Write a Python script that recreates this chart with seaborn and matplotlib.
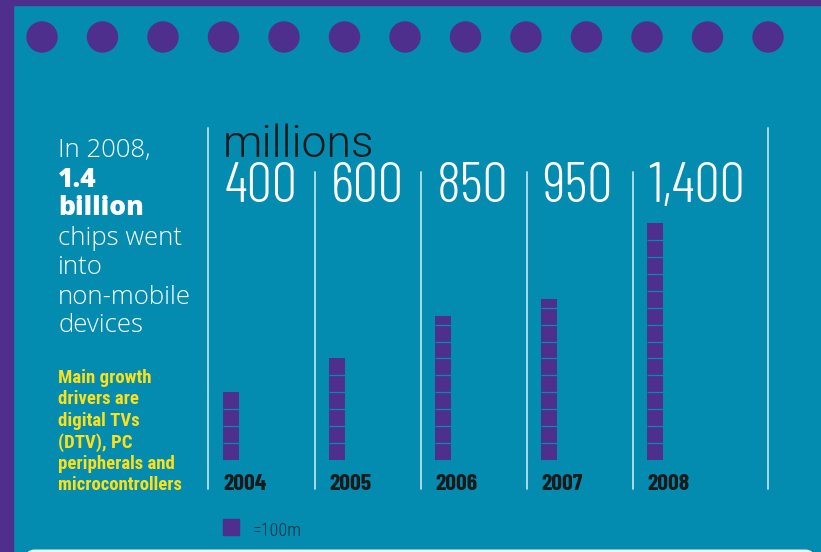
import matplotlib
matplotlib.use("Agg")
import matplotlib.pyplot as plt
import seaborn as sns
import pandas as pd
from matplotlib import font_manager as fm, transforms
from matplotlib.patches import Rectangle, Circle, FancyBboxPatch
from matplotlib.lines import Line2D

# ---- data ----
years = ["2004", "2005", "2006", "2007", "2008"]
chips_millions = [400, 600, 850, 950, 1400]
unit_size = 100
unit_label = "=100m"
headline_lines = ["In 2008,", "1.4", "billion", "chips went", "into", "non-mobile", "devices"]
headline_bold = [False, True, True, False, False, False, False]
driver_lines = ["Main growth", "drivers are", "digital TVs", "(DTV), PC",
                "peripherals and", "microcontrollers"]

# ---- style ----
TEAL = "#038bb0"
PURPLE = "#4f2f8e"
YELLOW = "#fbe01c"
DARK = "#1a1a1a"
SEP = "#b8e0ea"


def has_font(name):
    try:
        fm.findfont(fm.FontProperties(family=name), fallback_to_default=False)
        return True
    except Exception:
        return False


def pick(*names):
    for n in names:
        if has_font(n):
            return n
    return "DejaVu Sans"


NUMF = pick("Barlow Condensed", "Roboto Condensed", "Liberation Sans Narrow")
CONDF = pick("Roboto Condensed", "Barlow Condensed", "Liberation Sans Narrow")
HEADF = pick("Open Sans", "Roboto")
UNITF = pick("Roboto", "Open Sans")

sns.set_theme(style="white")
plt.rcParams["font.family"] = [CONDF, "DejaVu Sans"]

W, H = 821, 552
fig = plt.figure(figsize=(W / 100, H / 100), dpi=100, facecolor=TEAL)
# pixel transform: origin top-left
pxT = transforms.Affine2D().scale(1 / W, -1 / H).translate(0, 1) + fig.transFigure

# frame decorations
fig.patches.append(Rectangle((0, 0), 13, H, transform=pxT, color=PURPLE, zorder=0))
fig.patches.append(Rectangle((0, 0), W, 5, transform=pxT, color=PURPLE, zorder=0))
for i in range(13):
    fig.patches.append(Circle((42 + 60.5 * i, 37), 15, transform=pxT, color=PURPLE))
fig.patches.append(FancyBboxPatch((25, 549.5), 790, 30, boxstyle="round,pad=0,rounding_size=10",
                                  transform=pxT, facecolor="#e8f4f8", edgecolor="none"))

# ---- bar axes ----
step = 106
ax_left, ax_top, ax_bottom = 178, 223, 460
ax = fig.add_axes([ax_left / W, (H - ax_bottom) / H, 6 * step / W, (ax_bottom - ax_top) / H])
ax.set_facecolor("none")
df = pd.DataFrame({"year": years, "chips": chips_millions})
bar_w = 16 / step
sns.barplot(data=df, x="year", y="chips", order=years, color=PURPLE, width=bar_w,
            saturation=1, edgecolor="none", linewidth=0, ax=ax)
ax.set_xlim(-0.5, 5.5)
ax.set_ylim(0, 1400)
ax.axis("off")

# unit gaps between the stacked squares
for patch, val in zip(ax.patches, chips_millions):
    x0 = patch.get_x()
    x1 = x0 + patch.get_width()
    k = unit_size
    while k < val:
        ax.plot([x0, x1], [k, k], color=TEAL, lw=0.9, solid_capstyle="butt", zorder=5)
        k += unit_size

blend = transforms.blended_transform_factory(ax.transData, pxT)
for i, (yr, val) in enumerate(zip(years, chips_millions)):
    left = i - bar_w / 2
    ax.text(left + 0.015, 202, f"{val:,}", transform=blend, color="white", fontsize=41,
            fontfamily=NUMF, fontweight=300, fontstretch="condensed",
            va="baseline", ha="left")
    ax.text(left, 490, yr, transform=blend, color=DARK, fontsize=17, fontweight="bold",
            fontfamily=NUMF, fontstretch="condensed", va="baseline", ha="left")

# separators
for xs, y0 in [(208, 128), (315, 172), (421, 172), (527, 172), (633, 172), (768, 128)]:
    fig.lines.append(Line2D([xs, xs], [y0, 489], transform=pxT, color=SEP, lw=1.3))

fig.text(223, 157, "millions", transform=pxT, color=DARK, fontsize=32, fontfamily=UNITF,
         fontweight=300, fontstretch="normal", va="baseline", ha="left")

# headline text
baselines = [157, 187, 215, 245, 274, 304, 332]
for txt, b, yb in zip(headline_lines, headline_bold, baselines):
    fig.text(58, yb, txt, transform=pxT, color="white",
             fontsize=19 if b else 18.5, fontweight=800 if b else 300,
             fontstretch="normal", fontfamily=HEADF, va="baseline", ha="left")

for j, txt in enumerate(driver_lines):
    fig.text(58, 383 + 21.5 * j, txt, transform=pxT, color=YELLOW, fontsize=13.5,
             fontweight="bold", fontfamily=CONDF, fontstretch="condensed",
             va="baseline", ha="left")

# legend
fig.patches.append(Rectangle((223, 519), 16, 16, transform=pxT, color=PURPLE))
fig.text(253, 536, unit_label, transform=pxT, color="#1d2f3a", fontsize=13,
         fontfamily=CONDF, fontweight=300, fontstretch="condensed",
         va="baseline", ha="left")

fig.savefig("out.png", dpi=100, facecolor=TEAL)
